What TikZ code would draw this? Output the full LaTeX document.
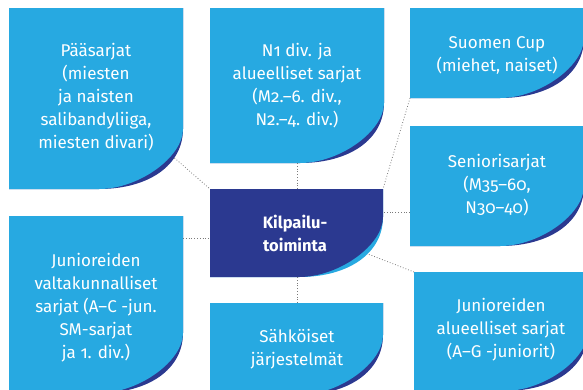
\documentclass[tikz,border=0pt]{standalone}
\usepackage{fontspec}
\setmainfont{Fira Sans}[Numbers=OldStyle]
\definecolor{lightblue}{HTML}{27A9E1}
\definecolor{navy}{HTML}{2B3990}
\definecolor{dotgray}{HTML}{7A7A7A}
\newcommand\cardshape[6]{%
  \fill[#5] (#1,#2) -- (#3,#2) -- (#3,#4-60) .. controls (#3,#4-24) and (#3-34,#4) .. (#3-84,#4) -- (#1,#4) -- cycle;
  \fill[#6] (#1,#2) -- (#3,#2) -- (#3,#4-60) .. controls (#3,#4-32) and (#3-44,#4) .. (#3-84,#4) -- (#1,#4) -- cycle;
}
\tikzset{
  cardtext/.style={text=white, align=center, font=\fontsize{17}{23}\selectfont, inner sep=0pt},
  hubtext/.style={text=white, align=center, font=\fontsize{16.5}{23}\selectfont\bfseries, inner sep=0pt},
  link/.style={draw=dotgray, dotted, line width=0.8pt}
}
\begin{document}
\begin{tikzpicture}[x=1pt,y=-1pt]
\useasboundingbox (0,0) rectangle (583,389);
\clip (0,0) rectangle (583,389);
% cards
\cardshape{9}{8}{183}{189}{navy}{lightblue}
\cardshape{210}{8}{384}{163}{navy}{lightblue}
\cardshape{410}{8}{584}{98}{navy}{lightblue}
\cardshape{410}{126}{584}{246}{navy}{lightblue}
\cardshape{414}{272}{588}{391}{navy}{lightblue}
\cardshape{9}{216}{183}{393}{navy}{lightblue}
\cardshape{210}{303}{383}{395}{navy}{lightblue}
\cardshape{210}{189}{383}{277}{lightblue}{navy}
% texts
\node[cardtext] (paa) at (96,97) {Pääsarjat\\(miesten\\ja naisten\\salibandyliiga,\\miesten divari)};
\node[cardtext] (n1) at (297,86) {N1 div. ja\\alueelliset sarjat\\(M2.–6. div.,\\N2.–4. div.)};
\node[cardtext] (cup) at (497,55) {Suomen Cup\\(miehet, naiset)};
\node[cardtext] (sen) at (497,185) {Seniorisarjat\\(M35–60,\\N30–40)};
\node[cardtext] (jal) at (501,330) {Junioreiden\\alueelliset sarjat\\(A–G -juniorit)};
\node[cardtext] (jva) at (96,308) {Junioreiden\\valtakunnalliset\\sarjat (A–C -jun.\\SM-sarjat\\ja 1. div.)};
\node[cardtext] (sah) at (297,349) {Sähköiset\\järjestelmät};
\node[hubtext] (hub) at (295,233) {Kilpailu-\\toiminta};
% anchor points
\coordinate (hubTL) at (210,189);
\coordinate (hubT) at (297,189);
\coordinate (hubTR) at (383,189);
\coordinate (hubR) at (383,212);
\coordinate (hubC) at (368,254);
\coordinate (hubL) at (210,238);
\coordinate (hubB) at (297,277);
\coordinate (paaP) at (174.5,158);
\coordinate (n1P) at (297,163);
\coordinate (cupP) at (410,98);
\coordinate (senP) at (410,212);
\coordinate (jalP) at (414,272);
\coordinate (jvaP) at (183,238);
\coordinate (sahP) at (297,303);
% connectors
\draw[link] (paaP) -- (hubTL);
\draw[link] (n1P) -- (hubT);
\draw[link] (cupP) -- (hubTR);
\draw[link] (senP) -- (hubR);
\draw[link] (jalP) -- (hubC);
\draw[link] (jvaP) -- (hubL);
\draw[link] (sahP) -- (hubB);
\end{tikzpicture}
\end{document}
